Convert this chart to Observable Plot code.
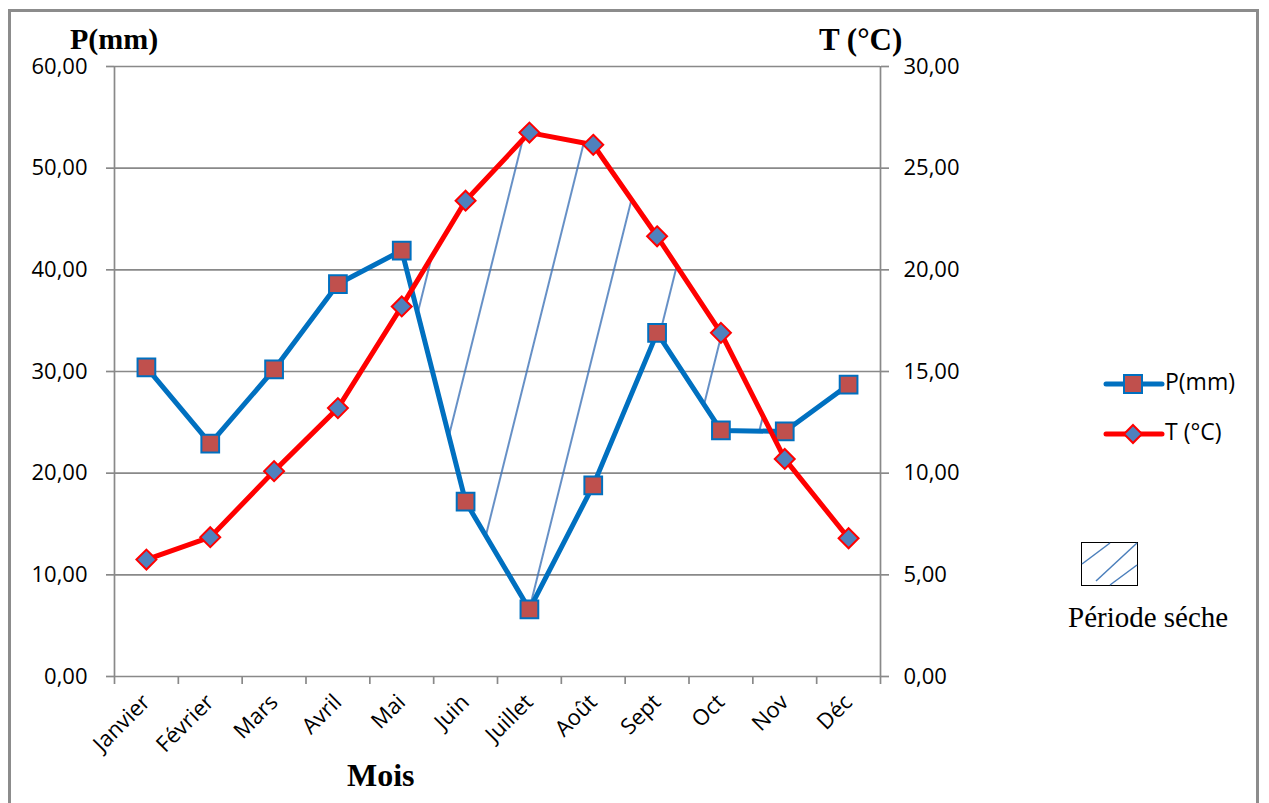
<!DOCTYPE html>
<html>
<head>
<meta charset="utf-8">
<script src="https://cdn.jsdelivr.net/npm/d3@7"></script>
<script src="https://cdn.jsdelivr.net/npm/@observablehq/plot@0.6"></script>
<style>
  body { margin: 0; background: #fff; }
  #wrap { position: relative; width: 1269px; height: 803px; overflow: hidden; font-family: "Open Sans", sans-serif; }
  #border { position: absolute; left: 8px; top: 9px; width: 1251px; height: 830px; border: 3px solid #8c8c8c; box-sizing: border-box; }
  #chart { position: absolute; left: 0; top: 0; }
  .serif { position: absolute; font-family: "Liberation Serif", "Times New Roman", serif; color: #000; white-space: nowrap; line-height: 1; }
  .bold { font-weight: bold; }
  .leg { position: absolute; font-family: "Open Sans", sans-serif; font-size: 23px; color: #000; white-space: nowrap; line-height: 1; }
</style>
</head>
<body>
<div id="wrap">
  <div id="chart"></div>
  <div id="border"></div>
  <div class="serif bold" style="left:70px; top:24px; font-size:30px;">P(mm)</div>
  <div class="serif bold" style="left:819px; top:24px; font-size:31px;">T (°C)</div>
  <div class="serif bold" style="left:347px; top:759px; font-size:32px;">Mois</div>
  <svg style="position:absolute; left:1100px; top:370px;" width="70" height="80">
    <line x1="6" y1="14" x2="62" y2="14" stroke="#0070C0" stroke-width="5" stroke-linecap="round"/>
    <rect x="24" y="5" width="18" height="18" fill="#C0504D" stroke="#0070C0" stroke-width="2"/>
    <line x1="6" y1="64" x2="62" y2="64" stroke="#FF0000" stroke-width="5" stroke-linecap="round"/>
    <path d="M33,55 L42,64 L33,73 L24,64 Z" fill="#4F81BD" stroke="#FF0000" stroke-width="2"/>
  </svg>
  <div class="leg" style="left:1165px; top:370px;">P(mm)</div>
  <div class="leg" style="left:1165px; top:420px;">T (°C)</div>
  <svg style="position:absolute; left:1080px; top:541px;" width="60" height="48">
    <rect x="1.5" y="1.5" width="56" height="43" fill="none" stroke="#000" stroke-width="1"/>
    <line x1="2" y1="23" x2="30" y2="2" stroke="#4a7ebb" stroke-width="1.5"/>
    <line x1="16" y1="40" x2="57" y2="2" stroke="#4a7ebb" stroke-width="1.5"/>
    <line x1="30" y1="44" x2="57" y2="24" stroke="#4a7ebb" stroke-width="1.5"/>
  </svg>
  <div class="serif" style="left:1068px; top:603px; font-size:29px;">Période séche</div>
</div>
<script>
const months = ["Janvier","Février","Mars","Avril","Mai","Juin","Juillet","Août","Sept","Oct","Nov","Déc"];
const precip = [30.4, 22.9, 30.2, 38.6, 41.9, 17.2, 6.6, 18.8, 33.8, 24.2, 24.1, 28.7];
const temp = [5.75, 6.85, 10.1, 13.2, 18.2, 23.4, 26.75, 26.15, 21.65, 16.9, 10.7, 6.8];
const pTicks = [0, 10, 20, 30, 40, 50, 60];

const data = months.map((m, i) => ({i, m, P: precip[i], T: temp[i]}));
const fmt = v => v.toFixed(2).replace(".", ",");
const gray = "#898989";

const chart = Plot.plot({
  width: 1269, height: 803,
  marginLeft: 114, marginRight: 389, marginTop: 66, marginBottom: 127,
  x: {type: "linear", domain: [-0.5, 11.5]},
  y: {domain: [0, 60]},
  style: {fontFamily: "'Open Sans', sans-serif", fontSize: "22px", color: "#000", background: "transparent", overflow: "visible"},
  marks: [
    Plot.ruleY(pTicks, {stroke: gray, strokeWidth: 1.7}),
    Plot.areaY(data, {x: "i", y1: "P", y2: 60, fill: "url(#hatch)"}),
    Plot.areaY(data, {x: "i", y1: 0, y2: d => d.T * 2, fill: "#000"}),
    Plot.ruleX([-0.5, 11.5], {stroke: gray, strokeWidth: 1.7}),
    Plot.axisY({anchor: "left", ticks: pTicks, tickFormat: fmt, tickSize: 8, tickPadding: 19, label: null, stroke: gray, strokeWidth: 1.7, fill: "#000"}),
    Plot.axisY({anchor: "right", ticks: pTicks, tickFormat: d => fmt(d / 2), tickSize: 8, tickPadding: 15, label: null, stroke: gray, strokeWidth: 1.7, fill: "#000"}),
    Plot.axisX({ticks: d3.range(-0.5, 12, 1), tickFormat: () => "", tickSize: 8, label: null, stroke: gray, strokeWidth: 1.7}),
    Plot.axisX({ticks: d3.range(12), tickFormat: i => months[i], tickSize: 0, tickPadding: 22, tickRotate: -45, label: null, fill: "#000", fontSize: 22}),
    Plot.line(data, {x: "i", y: "P", stroke: "#0070C0", strokeWidth: 5}),
    Plot.dot(data, {x: "i", y: "P", symbol: "square", r: 10, fill: "#C0504D", stroke: "#0070C0", strokeWidth: 2}),
    Plot.line(data, {x: "i", y: d => d.T * 2, stroke: "#FF0000", strokeWidth: 5}),
    Plot.dot(data, {x: "i", y: d => d.T * 2, symbol: "diamond2", r: 9, fill: "#4F81BD", stroke: "#FF0000", strokeWidth: 2})
  ]
});

// hatch pattern + clip for the dry period (P below 2T)
const svg = d3.select(chart);
const defs = svg.insert("defs", ":first-child");
const pat = defs.append("pattern").attr("id", "hatch").attr("patternUnits", "userSpaceOnUse")
  .attr("width", 60).attr("height", 40).attr("patternTransform", "rotate(14)");
pat.append("line").attr("x1", 1).attr("y1", -2).attr("x2", 1).attr("y2", 42)
  .attr("stroke", "#3f74b8").attr("stroke-width", 1.6);
const areas = chart.querySelectorAll('g[aria-label="area"]');
const clip = defs.append("clipPath").attr("id", "dry");
clip.node().appendChild(areas[1].querySelector("path"));
areas[1].remove();
areas[0].setAttribute("clip-path", "url(#dry)");

document.getElementById("chart").appendChild(chart);
</script>
</body>
</html>
